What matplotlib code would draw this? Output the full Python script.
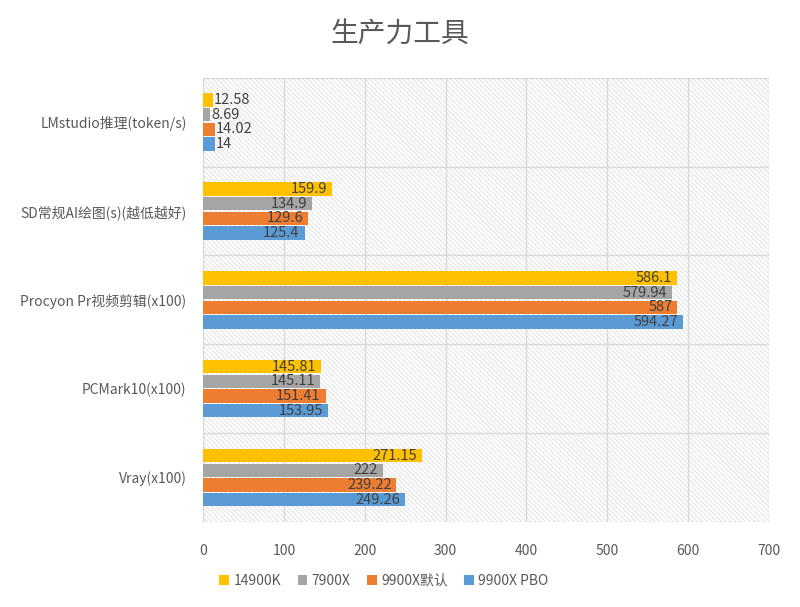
import numpy as np
import matplotlib.pyplot as plt
from matplotlib.patches import Rectangle

plt.rcParams['font.family'] = ['Noto Sans CJK SC', 'DejaVu Sans']
plt.rcParams['hatch.linewidth'] = 0.6

# categories from top to bottom
categories = ["LMstudio推理(token/s)", "SD常规AI绘图(s)(越低越好)",
              "Procyon Pr视频剪辑(x100)", "PCMark10(x100)", "Vray(x100)"]
series_names = ["14900K", "7900X", "9900X默认", "9900X PBO"]
v_14900k = [12.58, 159.9, 586.1, 145.81, 271.15]
v_7900x = [8.69, 134.9, 579.94, 145.11, 222]
v_9900x = [14.02, 129.6, 587, 151.41, 239.22]
v_9900x_pbo = [14, 125.4, 594.27, 153.95, 249.26]
labels_14900k = ["12.58", "159.9", "586.1", "145.81", "271.15"]
labels_7900x = ["8.69", "134.9", "579.94", "145.11", "222"]
labels_9900x = ["14.02", "129.6", "587", "151.41", "239.22"]
labels_9900x_pbo = ["14", "125.4", "594.27", "153.95", "249.26"]
colors = ["#FFC000", "#A5A5A5", "#ED7D31", "#5B9BD5"]

all_vals = [v_14900k, v_7900x, v_9900x, v_9900x_pbo]
all_labels = [labels_14900k, labels_7900x, labels_9900x, labels_9900x_pbo]

fig = plt.figure(figsize=(8, 6.07), dpi=100)
ax = fig.add_axes([0.254, 0.140, 0.707, 0.732])

n = len(categories)
ypos = np.arange(n)[::-1]  # top category has highest y
step = 0.165
offsets = [1.5 * step, 0.5 * step, -0.5 * step, -1.5 * step]

# hatched background
bg = Rectangle((0, 0), 1, 1, transform=ax.transAxes, facecolor="white",
               edgecolor="#dcdcdc", hatch="\\" * 7, linewidth=0, zorder=0)
ax.add_patch(bg)

for vals, labs, col, off, name in zip(all_vals, all_labels, colors, offsets, series_names):
    ax.barh(ypos + off, vals, height=0.15, color=col, label=name, zorder=3)
    for y, v, lab in zip(ypos, vals, labs):
        if v > 60:
            ax.text(v - 6, y + off, lab, ha="right", va="center", fontsize=10.5,
                    color="#404040", zorder=4)
        else:
            ax.text(v + 1, y + off, lab, ha="left", va="center", fontsize=10.5,
                    color="#404040", zorder=4)

ax.set_xlim(0, 700)
ax.set_ylim(-0.5, n - 0.5)
ax.set_xticks(np.arange(0, 701, 100))
ax.set_yticks(ypos)
ax.set_yticklabels(categories)
ax.tick_params(axis="both", length=0, labelsize=10, labelcolor="#595959")
ax.tick_params(axis="x", pad=16)
ax.tick_params(axis="y", pad=12)

ax.grid(axis="x", color="#d9d9d9", linewidth=1, zorder=1)
for b in np.arange(-0.5, n, 1.0):
    ax.axhline(b, color="#d9d9d9", linewidth=1, zorder=1)
for s in ["top", "right", "bottom"]:
    ax.spines[s].set_visible(False)
ax.spines["left"].set_color("#d9d9d9")

fig.text(0.5, 0.945, "生产力工具", ha="center", va="center", fontsize=20,
         color="#595959")

fig.legend(loc="center", bbox_to_anchor=(0.48, 0.043), ncol=4, frameon=False,
           fontsize=10, handlelength=0.7, handleheight=0.7, handletextpad=0.3,
           columnspacing=1.2, labelcolor="#595959")

fig.savefig("out.png", dpi=100)
